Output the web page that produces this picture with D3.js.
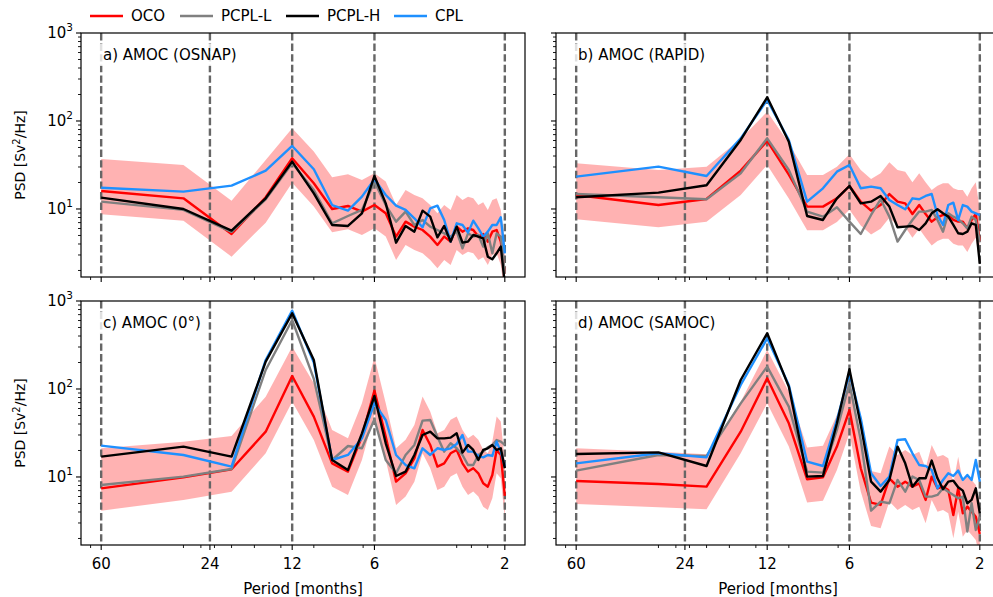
<!DOCTYPE html>
<html><head><meta charset="utf-8">
<script src="https://cdn.jsdelivr.net/npm/d3@7"></script>
<style>body{margin:0;background:#fff}svg text{font-family:"DejaVu Sans",sans-serif;fill:#000}</style>
</head><body><svg id="chart" width="993" height="597"></svg>
<script>
// Periods (months) of the spectral estimates
const periods = [60,30,20,15,12,10,8.571,7.5,6.667,6,5.455,5,4.615,4.286,4,3.75,3.529,3.333,3.158,3,2.857,2.727,2.609,2.5,2.4,2.308,2.222,2.143,2.069,2];
const majorPeriods = [60,24,12,6,2];
const minorPeriods = [65.6,30,25.9,23.1,20,16.5,13.2,10,6.6,3,2.65,2.31];
const seriesNames = ["OCO","PCPL-L","PCPL-H","CPL"];
const seriesColors = ["#ff0000","#808080","#000000","#1e90ff"];
const panelLabels = ["a) AMOC (OSNAP)","b) AMOC (RAPID)","c) AMOC (0°)","d) AMOC (SAMOC)"];

// PSD values, stored as log10(PSD [Sv^2/Hz])
const ocoA  = [1.205,1.121,0.716,1.133,1.576,1.292,1.000,1.034,0.970,1.045,0.951,0.686,0.856,0.799,0.761,0.686,0.591,0.686,0.629,0.799,0.742,0.780,0.761,0.686,0.716,0.629,0.742,0.761,0.629,0.269];
const pcplLA= [1.083,0.990,0.740,1.110,1.520,1.216,0.837,0.920,0.989,1.310,1.045,0.856,0.970,0.818,0.875,0.799,0.761,0.723,0.686,0.742,0.553,0.723,0.686,0.704,0.572,0.723,0.496,0.723,0.686,0.269];
const pcplHA= [1.129,1.000,0.754,1.121,1.538,1.178,0.818,0.807,0.951,1.375,1.064,0.617,0.807,0.742,0.981,0.913,0.678,0.807,0.629,0.799,0.617,0.629,0.704,0.686,0.667,0.458,0.428,0.496,0.572,0.150];
const cplA  = [1.242,1.197,1.265,1.435,1.716,1.451,1.045,0.981,1.140,1.337,1.159,1.038,0.989,0.894,0.792,1.007,1.038,0.875,0.629,0.837,0.818,0.731,0.867,0.780,0.685,0.742,0.818,0.818,0.905,0.496];
const ciHiA = [1.568,1.500,1.094,1.557,1.917,1.652,1.360,1.394,1.330,1.405,1.311,1.046,1.216,1.159,1.121,1.046,0.951,1.046,0.989,1.159,1.102,1.140,1.121,1.046,1.076,0.989,1.102,1.121,0.989,0.629];
const ciLoA = [0.940,0.867,0.458,0.844,1.299,1.027,0.735,0.769,0.705,0.780,0.686,0.421,0.591,0.534,0.496,0.421,0.326,0.421,0.364,0.534,0.477,0.515,0.496,0.421,0.451,0.364,0.477,0.496,0.364,0.004];

const ocoB  = [1.159,1.045,1.114,1.436,1.773,1.390,1.027,1.027,1.121,1.261,1.083,0.981,1.045,1.170,1.083,1.064,0.943,1.045,0.943,0.856,0.905,0.932,0.932,0.875,0.856,0.856,0.780,0.875,0.943,0.629];
const pcplLB= [1.170,1.133,1.110,1.405,1.803,1.443,0.970,0.913,1.019,0.856,0.716,0.932,1.110,0.913,0.629,0.761,0.875,0.970,0.970,0.989,0.875,0.742,0.951,0.913,0.883,0.837,0.780,0.913,0.875,0.620];
const pcplHB= [1.133,1.186,1.269,1.784,2.269,1.765,0.920,0.875,1.121,1.261,1.064,1.083,1.148,1.027,0.792,0.799,0.807,0.761,0.837,0.951,0.996,0.951,0.913,0.818,0.724,0.716,0.742,0.837,0.818,0.375];
const cplB  = [1.367,1.481,1.375,1.803,2.239,1.784,1.083,1.235,1.424,1.500,1.235,1.254,1.235,1.102,1.045,0.996,1.121,1.110,1.148,1.170,0.932,0.818,1.045,1.072,0.875,1.045,1.027,0.970,0.951,0.930];
const ciHiB = [1.519,1.443,1.481,1.796,2.106,1.750,1.387,1.387,1.481,1.621,1.443,1.341,1.405,1.530,1.443,1.424,1.303,1.405,1.303,1.216,1.265,1.292,1.292,1.235,1.216,1.216,1.140,1.235,1.303,0.989];
const ciLoB = [0.883,0.792,0.856,1.159,1.500,1.120,0.757,0.757,0.851,0.991,0.813,0.711,0.775,0.900,0.813,0.794,0.673,0.775,0.673,0.586,0.635,0.662,0.662,0.605,0.586,0.586,0.510,0.605,0.673,0.359];

const ocoC  = [0.871,0.996,1.087,1.515,2.148,1.686,1.155,1.061,1.458,1.981,1.458,0.947,1.042,1.212,1.534,1.364,1.118,1.155,1.269,1.307,1.155,1.061,1.099,1.042,0.928,0.890,1.023,1.307,1.250,0.784];
const pcplLC= [0.909,1.004,1.090,2.216,2.784,2.114,1.193,1.352,1.326,1.655,1.193,1.042,1.250,1.364,1.640,1.648,1.458,1.288,1.383,1.326,1.250,1.136,1.136,1.250,1.288,1.337,1.364,1.420,1.402,1.364];
const pcplHC= [1.231,1.345,1.231,2.311,2.860,2.330,1.193,1.080,1.496,1.921,1.383,1.011,1.061,1.250,1.477,1.515,1.439,1.439,1.447,1.496,1.277,1.364,1.307,1.193,1.307,1.326,1.364,1.307,1.326,1.099];
const cplC  = [1.356,1.250,1.117,2.330,2.890,2.300,1.193,1.250,1.439,1.837,1.648,1.250,1.136,1.099,1.326,1.250,1.326,1.307,1.326,1.375,1.477,1.288,1.288,1.239,1.223,1.250,1.239,1.402,1.288,1.117];
const ciHiC = [1.326,1.401,1.466,1.913,2.481,2.066,1.535,1.441,1.838,2.361,1.838,1.327,1.422,1.592,1.914,1.744,1.498,1.535,1.649,1.687,1.535,1.441,1.479,1.422,1.308,1.270,1.403,1.687,1.630,1.164];
const ciLoC = [0.617,0.738,0.833,1.269,1.856,1.421,0.890,0.796,1.193,1.716,1.193,0.682,0.777,0.947,1.269,1.099,0.853,0.890,1.004,1.042,0.890,0.796,0.834,0.777,0.663,0.625,0.758,1.042,0.985,0.519];

const ocoD  = [0.954,0.920,0.890,1.515,2.121,1.610,0.974,0.996,1.345,1.761,1.099,0.708,0.682,0.985,0.890,0.947,0.890,0.928,0.739,1.004,0.871,0.890,0.852,0.568,0.871,0.587,0.663,0.606,0.549,0.352];
const pcplLD= [1.072,1.250,1.239,1.837,2.254,1.799,1.061,1.049,1.534,2.065,1.420,0.617,0.720,0.701,0.966,0.833,1.004,0.966,0.777,0.777,0.796,0.871,0.833,0.796,0.758,0.777,0.379,0.701,0.398,0.549];
const pcplHD= [1.261,1.280,1.125,2.102,2.633,2.027,1.004,1.011,1.610,2.224,1.591,0.947,0.833,0.966,1.345,1.155,0.890,0.985,0.985,1.186,0.985,0.860,0.947,0.958,0.883,0.845,0.701,0.740,0.871,0.587];
const cplD  = [1.155,1.269,1.223,2.045,2.576,2.046,1.174,1.125,1.648,2.178,1.667,1.042,0.898,1.004,1.420,1.428,1.269,1.136,1.125,1.080,0.871,0.966,1.042,1.011,1.072,0.966,1.023,0.966,1.193,0.947];
const ciHiD = [1.326,1.288,1.258,1.856,2.443,1.970,1.334,1.356,1.705,2.121,1.459,1.068,1.042,1.345,1.250,1.307,1.250,1.288,1.099,1.364,1.231,1.250,1.212,0.928,1.231,0.947,1.023,0.966,0.909,0.712];
const ciLoD = [0.693,0.655,0.633,1.269,1.837,1.345,0.709,0.731,1.080,1.496,0.834,0.443,0.417,0.720,0.625,0.682,0.625,0.663,0.474,0.739,0.606,0.625,0.587,0.303,0.606,0.322,0.398,0.341,0.284,0.087];

const yTickValues = [10,100,1000];

const panelData = [
  {series:[ocoA,pcplLA,pcplHA,cplA], hi:ciHiA, lo:ciLoA},
  {series:[ocoB,pcplLB,pcplHB,cplB], hi:ciHiB, lo:ciLoB},
  {series:[ocoC,pcplLC,pcplHC,cplC], hi:ciHiC, lo:ciLoC},
  {series:[ocoD,pcplLD,pcplHD,cplD], hi:ciHiD, lo:ciLoD}
];
const layout = [{x:81,y:33},{x:556,y:33},{x:81,y:301},{x:556,y:301}];
const PW = 444, PH = 244;
const FS = 15;

const svg = d3.select("#chart");
const pad = 0.05*Math.log10(d3.max(periods)/d3.min(periods));
const xDomain = [d3.max(periods)*Math.pow(10,pad), d3.min(periods)/Math.pow(10,pad)];
const drawOrder = [0,1,3,2];

panelData.forEach((pd, i) => {
  const L = layout[i];
  const g = svg.append("g").attr("transform", `translate(${L.x},${L.y})`);
  const x = d3.scaleLog().domain(xDomain).range([0, PW]);
  const y = d3.scaleLog().domain([1.686, 1000]).range([PH, 0]);
  const clipId = "clip" + i;
  g.append("clipPath").attr("id", clipId).append("rect").attr("width", PW).attr("height", PH);
  const plot = g.append("g").attr("clip-path", `url(#${clipId})`);

  // confidence band
  const area = d3.area()
    .x((d, j) => x(periods[j]))
    .y0((d, j) => y(Math.pow(10, pd.lo[j])))
    .y1((d, j) => y(Math.pow(10, pd.hi[j])));
  plot.append("path").datum(pd.hi).attr("d", area).attr("fill", "#ff0000").attr("fill-opacity", 0.3);

  // dashed reference periods
  plot.selectAll("line.ref").data(majorPeriods).enter().append("line")
    .attr("x1", d => x(d)).attr("x2", d => x(d)).attr("y1", 0).attr("y2", PH)
    .attr("stroke", "#666").attr("stroke-width", 2.4).attr("stroke-dasharray", "7.4,3.2");

  const line = d3.line().x((d, j) => x(periods[j])).y(d => y(Math.pow(10, d)));
  drawOrder.forEach(s => {
    plot.append("path").datum(pd.series[s]).attr("d", line)
      .attr("fill", "none").attr("stroke", seriesColors[s]).attr("stroke-width", 2.4)
      .attr("stroke-linejoin", "round");
  });

  // panel label
  const lbl = g.append("g");
  const t = lbl.append("text").attr("x", 22).attr("y", 27).attr("font-size", FS).text(panelLabels[i]);
  const bb = t.node().getBBox();
  lbl.insert("rect", "text").attr("x", bb.x - 3).attr("y", bb.y - 2).attr("width", bb.width + 6).attr("height", bb.height + 4)
    .attr("fill", "#fff").attr("fill-opacity", 0.8);

  // axes
  const xAxis = g.append("g").attr("transform", `translate(0,${PH})`);
  xAxis.selectAll("line.maj").data(majorPeriods).enter().append("line")
    .attr("x1", d => x(d)).attr("x2", d => x(d)).attr("y1", 0).attr("y2", 5).attr("stroke", "#000").attr("stroke-width", 1.1);
  xAxis.selectAll("line.min").data(minorPeriods).enter().append("line")
    .attr("x1", d => x(d)).attr("x2", d => x(d)).attr("y1", 0).attr("y2", 3).attr("stroke", "#000").attr("stroke-width", 0.9);
  if (i >= 2) {
    xAxis.selectAll("text.tl").data(majorPeriods).enter().append("text")
      .attr("x", d => x(d)).attr("y", 24).attr("text-anchor", "middle").attr("font-size", FS).text(d => d);
    g.append("text").attr("x", PW/2).attr("y", PH + 49).attr("text-anchor", "middle").attr("font-size", FS).text("Period [months]");
  }
  const yAxis = g.append("g");
  const yMinor = [];
  [1,10,100].forEach(b => { for (let m = 2; m <= 9; m++) { const v = b*m; if (v >= 1.686) yMinor.push(v); } });
  yAxis.selectAll("line.ymin").data(yMinor).enter().append("line")
    .attr("x1", 0).attr("x2", -3).attr("y1", d => y(d)).attr("y2", d => y(d)).attr("stroke", "#000").attr("stroke-width", 0.9);
  yAxis.selectAll("line.ymaj").data(yTickValues).enter().append("line")
    .attr("x1", 0).attr("x2", -5).attr("y1", d => y(d)).attr("y2", d => y(d)).attr("stroke", "#000").attr("stroke-width", 1.1);
  if (i % 2 === 0) {
    yAxis.selectAll("text.yl").data(yTickValues).enter().append("text")
      .attr("x", -8).attr("y", d => y(d) + 5).attr("text-anchor", "end").attr("font-size", FS)
      .each(function(d) {
        const tx = d3.select(this);
        tx.append("tspan").text("10");
        tx.append("tspan").attr("dy", -7).attr("font-size", 10.5).text(Math.round(Math.log10(d)));
      });
    const yl = g.append("text").attr("transform", `translate(-56,${PH/2}) rotate(-90)`).attr("text-anchor", "middle").attr("font-size", 14);
    yl.append("tspan").text("PSD [Sv");
    yl.append("tspan").attr("dy", -5).attr("font-size", 10).text("2");
    yl.append("tspan").attr("dy", 5).text("/Hz]");
  }
  g.append("rect").attr("width", PW).attr("height", PH).attr("fill", "none").attr("stroke", "#000").attr("stroke-width", 1.2);
});

// legend
const legX = [90, 180, 286, 394];
const leg = svg.append("g");
seriesNames.forEach((n, s) => {
  leg.append("line").attr("x1", legX[s]).attr("x2", legX[s] + 33).attr("y1", 16).attr("y2", 16)
    .attr("stroke", seriesColors[s]).attr("stroke-width", 2.6);
  leg.append("text").attr("x", legX[s] + 41).attr("y", 21).attr("font-size", FS).text(n);
});
</script></body></html>
